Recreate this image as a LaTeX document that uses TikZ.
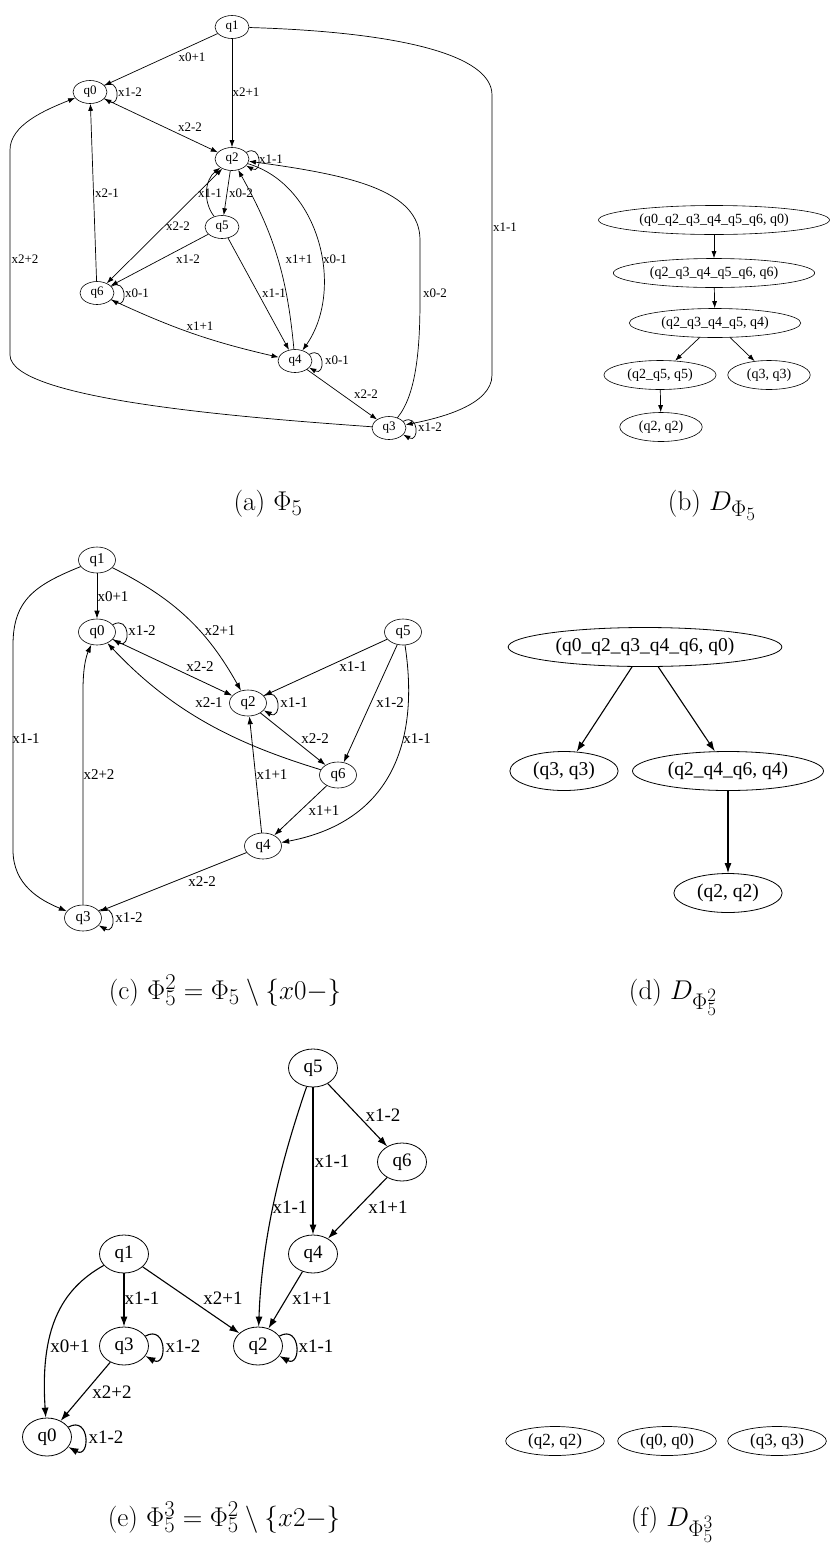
\documentclass[tikz,border=0pt]{standalone}
\usepackage{fontspec}
\newfontfamily\tms{Liberation Serif}
\usetikzlibrary{arrows.meta,shapes.geometric}
\tikzset{
	x=1pt, y=1pt,
	state/.style={ellipse, draw, inner sep=0pt, line width=0.6pt}, % one vertex of a graph
	edge label/.style={inner sep=0pt}, % text beside an edge
	caption/.style={anchor=base, scale=1.09, transform shape, font=\fontsize{24.88}{30}\selectfont}
}
\newcommand{\sz}[1]{\tms\fontsize{#1}{#1}\selectfont}

\begin{document}
\begin{tikzpicture}
\useasboundingbox (0,0) rectangle (831,-1545);

% (a) the graph Phi_5
\begin{scope}[-{Latex[length=7pt,width=5pt]}, line width=0.7pt]
	\tikzset{my node/.style={state, minimum width=34pt, minimum height=23pt, font=\sz{13}}}
	\tikzset{my label/.style={edge label, font=\sz{13}}}
	\tikzset{both/.style={{Latex[length=7pt,width=5pt]}-{Latex[length=7pt,width=5pt]}}}
	\node[my node] (a1) at (232,-27) {q1};
	\node[my node] (a0) at (90,-92) {q0};
	\node[my node] (a2) at (232,-159) {q2};
	\node[my node] (a5) at (222,-227) {q5};
	\node[my node] (a6) at (97,-293) {q6};
	\node[my node] (a4) at (295,-361) {q4};
	\node[my node] (a3) at (389,-428) {q3};
	\draw (a1) -- (a0) node[my label] at (192,-57) {x0+1};
	\draw (a1) -- (a2) node[my label] at (246,-92) {x2+1};
	\draw (a1) .. controls (400,-32) and (492,-55) .. (492,-95) -- (492,-375) .. controls (492,-405) and (440,-418) .. (a3) node[my label] at (505,-227) {x1-1};
	\draw (a0.25) .. controls +(16,9) and +(16,-9) .. (a0.335) node[my label] at (130,-92) {x1-2};
	\draw (a0) -- (a2) node[my label] at (190,-127) {x2-2};
	\draw (a6) -- (a0) node[my label] at (107,-193) {x2-1};
	\draw (a3) .. controls (250,-418) and (10,-400) .. (10,-355) -- (10,-150) .. controls (10,-125) and (45,-110) .. (a0) node[my label] at (25,-259) {x2+2};
	\draw (a2.25) .. controls +(16,9) and +(16,-9) .. (a2.335) node[my label] at (271,-159) {x1-1};
	\draw (a2) -- (a5) node[my label] at (241,-193) {x0-2};
	\draw (a5) to[bend left=45] (a2) node[my label] at (210,-193) {x1-1};
	\draw[both] (a2) -- (a6) node[my label] at (178,-226) {x2-2};
	\draw (a5) -- (a6) node[my label] at (188,-259) {x1-2};
	\draw (a5) -- (a4) node[my label] at (274,-293) {x1-1};
	\draw (a4) to[bend right=12] (a2) node[my label] at (299,-259) {x1+1};
	\draw (a2) .. controls (320,-185) and (345,-290) .. (a4) node[my label] at (335,-259) {x0-1};
	\draw (a6.25) .. controls +(16,9) and +(16,-9) .. (a6.335) node[my label] at (137,-293) {x0-1};
	\draw (a6) to[bend right=6] (a4) node[my label] at (200,-326) {x1+1};
	\draw (a4.25) .. controls +(16,9) and +(16,-9) .. (a4.335) node[my label] at (337,-360) {x0-1};
	\draw (a4) -- (a3) node[my label] at (366,-394) {x2-2};
	\draw (a3) .. controls (416,-395) and (420,-350) .. (420,-300) -- (420,-240) .. controls (420,-190) and (350,-175) .. (a2) node[my label] at (435,-293) {x0-2};
	\draw (a3.25) .. controls +(16,9) and +(16,-9) .. (a3.335) node[my label] at (430,-427) {x1-2};
\end{scope}

% (b) its tree D
\begin{scope}[-{Latex[length=7pt,width=5pt]}, line width=0.7pt]
	\tikzset{my node/.style={state, inner xsep=7pt, minimum height=29pt, font=\sz{14}}}
	\node[my node] (b1) at (714,-220) {(q0\_q2\_q3\_q4\_q5\_q6, q0)};
	\node[my node] (b2) at (714,-273) {(q2\_q3\_q4\_q5\_q6, q6)};
	\node[my node] (b3) at (715,-323) {(q2\_q3\_q4\_q5, q4)};
	\node[my node] (b4) at (660,-375) {(q2\_q5, q5)};
	\node[my node] (b5) at (769,-375) {(q3, q3)};
	\node[my node] (b6) at (661,-427) {(q2, q2)};
	\draw (b1) -- (b2);
	\draw (b2) -- (b3);
	\draw (b3) -- (b4);
	\draw (b3) -- (b5);
	\draw (b4) -- (b6);
\end{scope}

% (c) Phi_5^2
\begin{scope}[-{Latex[length=8pt,width=5.5pt]}, line width=0.8pt]
	\tikzset{my node/.style={state, minimum width=37pt, minimum height=26pt, font=\sz{15}}}
	\tikzset{my label/.style={edge label, font=\sz{15}}}
	\node[my node] (c1) at (97,-560) {q1};
	\node[my node] (c0) at (97,-632) {q0};
	\node[my node] (c5) at (403,-632) {q5};
	\node[my node] (c2) at (248,-703) {q2};
	\node[my node] (c6) at (338,-775) {q6};
	\node[my node] (c4) at (263,-846) {q4};
	\node[my node] (c3) at (83,-918) {q3};
	\draw (c1) -- (c0) node[my label] at (113,-597) {x0+1};
	\draw (c1) to[bend left=17] (c2) node[my label] at (220,-631) {x2+1};
	\draw (c1) .. controls (35,-585) and (13,-600) .. (13,-645) -- (13,-850) .. controls (13,-885) and (40,-900) .. (c3) node[my label] at (26,-739) {x1-1};
	\draw (c0.25) .. controls +(18,10) and +(18,-10) .. (c0.335) node[my label] at (142,-631) {x1-2};
	\draw (c0) -- (c2) node[my label] at (200,-667) {x2-2};
	\draw (c6) .. controls (240,-745) and (175,-715) .. (c0) node[my label] at (209,-703) {x2-1};
	\draw (c5) -- (c2) node[my label] at (353,-667) {x1-1};
	\draw (c2.25) .. controls +(18,10) and +(18,-10) .. (c2.335) node[my label] at (294,-703) {x1-1};
	\draw (c5) -- (c6) node[my label] at (390,-703) {x1-2};
	\draw (c5) .. controls (418,-730) and (400,-820) .. (c4) node[my label] at (417,-739) {x1-1};
	\draw (c2) -- (c6) node[my label] at (315,-739) {x2-2};
	\draw (c4) -- (c2) node[my label] at (272,-775) {x1+1};
	\draw (c6) -- (c4) node[my label] at (324,-811) {x1+1};
	\draw (c4) -- (c3) node[my label] at (202,-882) {x2-2};
	\draw (c3) -- (83,-690) .. controls (83,-662) and (88,-652) .. (c0) node[my label] at (99,-775) {x2+2};
	\draw (c3.25) .. controls +(18,10) and +(18,-10) .. (c3.335) node[my label] at (129,-918) {x1-2};
\end{scope}

% (d) its tree D
\begin{scope}[-{Latex[length=10pt,width=7pt]}, line width=1.1pt]
	\tikzset{my node/.style={state, line width=0.8pt, inner xsep=7.4pt, minimum height=39pt, font=\sz{19.5}}}
	\node[my node] (d1) at (645,-647) {(q0\_q2\_q3\_q4\_q6, q0)};
	\node[my node] (d2) at (564,-771) {(q3, q3)};
	\node[my node] (d3) at (728,-771) {(q2\_q4\_q6, q4)};
	\node[my node] (d4) at (728,-893) {(q2, q2)};
	\draw (d1) -- (d2);
	\draw (d1) -- (d3);
	\draw (d3) -- (d4);
\end{scope}

% (e) Phi_5^3
\begin{scope}[-{Latex[length=10pt,width=7pt]}, line width=1.1pt]
	\tikzset{my node/.style={state, line width=0.8pt, minimum width=49pt, minimum height=38pt, font=\sz{19}}}
	\tikzset{my label/.style={edge label, font=\sz{19}}}
	\node[my node] (e5) at (313,-1068) {q5};
	\node[my node] (e6) at (402,-1162) {q6};
	\node[my node] (e4) at (313,-1254) {q4};
	\node[my node] (e1) at (124,-1254) {q1};
	\node[my node] (e3) at (124,-1346) {q3};
	\node[my node] (e2) at (258,-1346) {q2};
	\node[my node] (e0) at (47,-1437) {q0};
	\draw (e5) -- (e6) node[my label] at (383,-1115) {x1-2};
	\draw (e5) -- (e4) node[my label] at (332,-1161) {x1-1};
	\draw (e5) .. controls (285,-1150) and (262,-1230) .. (e2) node[my label] at (290,-1207) {x1-1};
	\draw (e6) -- (e4) node[my label] at (388,-1207) {x1+1};
	\draw (e4) -- (e2) node[my label] at (312,-1298) {x1+1};
	\draw (e1) -- (e3) node[my label] at (142,-1298) {x1-1};
	\draw (e1) -- (e2) node[my label] at (223,-1298) {x2+1};
	\draw (e1) .. controls (60,-1290) and (40,-1330) .. (e0) node[my label] at (70,-1346) {x0+1};
	\draw (e3.25) .. controls +(22,12) and +(22,-12) .. (e3.335) node[my label] at (183,-1346) {x1-2};
	\draw (e2.25) .. controls +(22,12) and +(22,-12) .. (e2.335) node[my label] at (316,-1346) {x1-1};
	\draw (e3) -- (e0) node[my label] at (112,-1392) {x2+2};
	\draw (e0.25) .. controls +(22,12) and +(22,-12) .. (e0.335) node[my label] at (106,-1437) {x1-2};
\end{scope}

% (f) its trees D, no edges left
\tikzset{my node/.style={state, line width=0.7pt, inner xsep=8pt, minimum height=29pt, font=\sz{17}}}
\node[my node] (f1) at (555,-1441) {(q2, q2)};
\node[my node] (f2) at (667,-1441) {(q0, q0)};
\node[my node] (f3) at (777,-1441) {(q3, q3)};

% captions
\node[caption] (capa) at (268,-510) {(a) $\Phi_5$};
\node[caption] (capb) at (712,-510) {(b) $D_{\Phi_5}$};
\node[caption] (capc) at (225,-999) {(c) $\Phi_5^2 = \Phi_5 \setminus \{x0-\}$};
\node[caption] (capd) at (673,-999) {(d) $D_{\Phi_5^2}$};
\node[caption] (cape) at (224,-1526) {(e) $\Phi_5^3 = \Phi_5^2 \setminus \{x2-\}$};
\node[caption] (capf) at (672,-1526) {(f) $D_{\Phi_5^3}$};
\end{tikzpicture}
\end{document}
